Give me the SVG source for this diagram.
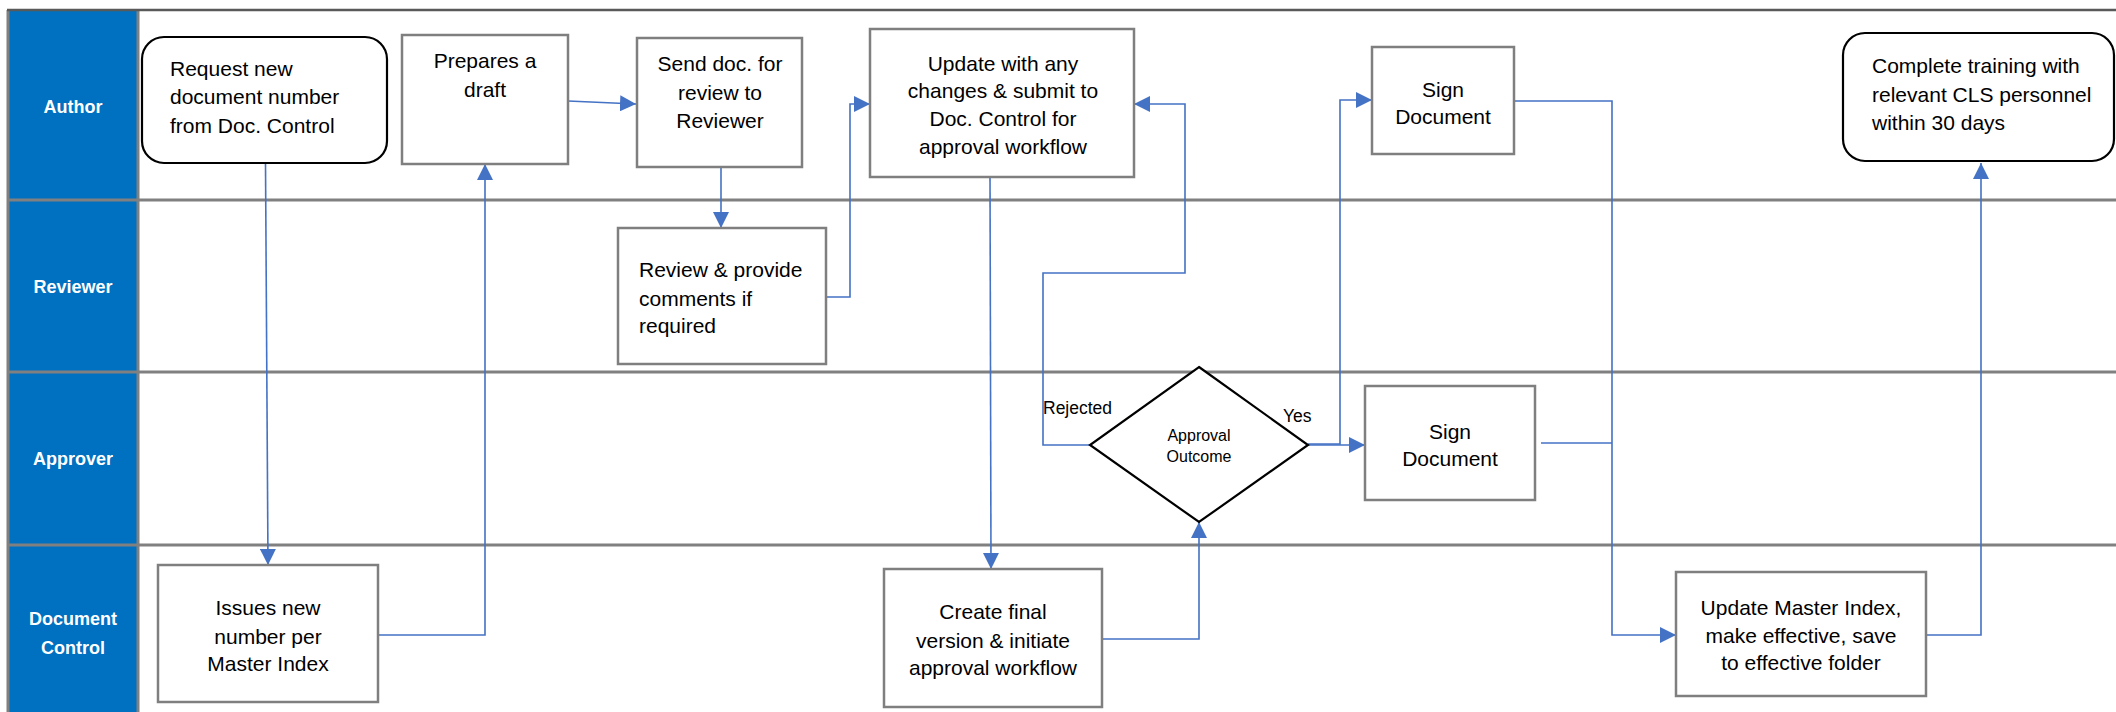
<svg xmlns="http://www.w3.org/2000/svg" width="2116" height="712" viewBox="0 0 2116 712">
<style>
  .bg{fill:#ffffff}
  .band{fill:#0070C0}
  .lane{stroke:#808080;stroke-width:3;fill:none}
  .frame{stroke:#595959;stroke-width:2.5;fill:none}
  .box{fill:#ffffff;stroke:#7F7F7F;stroke-width:2.5}
  .rbox{fill:#ffffff;stroke:#000000;stroke-width:2.2}
  .dia{fill:#ffffff;stroke:#000000;stroke-width:2.2}
  .lbl{font-family:"Liberation Sans",Arial,sans-serif;font-size:18px;font-weight:bold;fill:#ffffff;text-anchor:middle}
  .t{font-family:"Liberation Sans",Arial,sans-serif;font-size:21px;fill:#000000}
  .c{text-anchor:middle}
  .s{font-family:"Liberation Sans",Arial,sans-serif;font-size:16px;fill:#000000;text-anchor:middle}
  .e{font-family:"Liberation Sans",Arial,sans-serif;font-size:17.5px;fill:#000000}
  .conn{fill:none;stroke:#4472C4;stroke-width:1.6}
</style>
<defs>
  <marker id="ah" markerUnits="userSpaceOnUse" markerWidth="18" markerHeight="16" refX="16" refY="8" orient="auto">
    <path d="M0,0 L16,8 L0,16 Z" fill="#4472C4"/>
  </marker>
</defs>
<rect class="bg" x="0" y="0" width="2116" height="712"/>

<g id="lanes">
  <rect class="band" x="8" y="10" width="129" height="702"/>
  <line class="lane" x1="8" y1="10" x2="8" y2="712"/>
  <line class="lane" x1="138" y1="10" x2="138" y2="712"/>
  <line class="frame" x1="7" y1="10" x2="2116" y2="10"/>
  <line class="lane" x1="8" y1="200" x2="2116" y2="200"/>
  <line class="lane" x1="8" y1="372" x2="2116" y2="372"/>
  <line class="lane" x1="8" y1="545" x2="2116" y2="545"/>
  <text class="lbl" x="73" y="113">Author</text>
  <text class="lbl" x="73" y="293">Reviewer</text>
  <text class="lbl" x="73" y="465">Approver</text>
  <text class="lbl" x="73" y="625">Document</text>
  <text class="lbl" x="73" y="654">Control</text>
</g>

<g id="connectors">
  <line class="conn" x1="265.5" y1="163" x2="268" y2="565" marker-end="url(#ah)"/>
  <polyline class="conn" points="378,635 485,635 485,164" marker-end="url(#ah)"/>
  <line class="conn" x1="568" y1="101" x2="636" y2="104" marker-end="url(#ah)"/>
  <line class="conn" x1="721" y1="167" x2="721" y2="228" marker-end="url(#ah)"/>
  <polyline class="conn" points="826,297 850,297 850,104 870,104" marker-end="url(#ah)"/>
  <line class="conn" x1="990" y1="174" x2="991" y2="569" marker-end="url(#ah)"/>
  <polyline class="conn" points="1102,639 1199,639 1199,522" marker-end="url(#ah)"/>
  <polyline class="conn" points="1090,445 1043,445 1043,273 1185,273 1185,104 1134,104" marker-end="url(#ah)"/>
  <line class="conn" x1="1308" y1="445" x2="1365" y2="445" marker-end="url(#ah)" stroke-width="2.5"/>
  <polyline class="conn" points="1308,444 1340,444 1340,100 1372,100" marker-end="url(#ah)"/>
  <polyline class="conn" points="1515,101 1612,101 1612,635 1676,635" marker-end="url(#ah)"/>
  <line class="conn" x1="1541" y1="443" x2="1612" y2="443"/>
  <polyline class="conn" points="1926,635 1981,635 1981,163" marker-end="url(#ah)"/>
</g>

<g id="n-request">
  <rect class="rbox" x="142" y="37" width="245" height="126" rx="22" ry="22"/>
  <text class="t" x="170" y="76">Request new</text>
  <text class="t" x="170" y="104">document number</text>
  <text class="t" x="170" y="133">from Doc. Control</text>
</g>
<g id="n-draft">
  <rect class="box" x="402" y="35" width="166" height="129"/>
  <text class="t c" x="485" y="68">Prepares a</text>
  <text class="t c" x="485" y="97">draft</text>
</g>
<g id="n-send">
  <rect class="box" x="637" y="38" width="165" height="129"/>
  <text class="t c" x="720" y="71">Send doc. for</text>
  <text class="t c" x="720" y="100">review to</text>
  <text class="t c" x="720" y="128">Reviewer</text>
</g>
<g id="n-update">
  <rect class="box" x="870" y="29" width="264" height="148"/>
  <text class="t c" x="1003" y="71">Update with any</text>
  <text class="t c" x="1003" y="98">changes &amp; submit to</text>
  <text class="t c" x="1003" y="126">Doc. Control for</text>
  <text class="t c" x="1003" y="154">approval workflow</text>
</g>
<g id="n-sign-author">
  <rect class="box" x="1372" y="47" width="142" height="107"/>
  <text class="t c" x="1443" y="97">Sign</text>
  <text class="t c" x="1443" y="124">Document</text>
</g>
<g id="n-complete">
  <rect class="rbox" x="1843" y="33" width="271" height="128" rx="22" ry="22"/>
  <text class="t" x="1872" y="73">Complete training with</text>
  <text class="t" x="1872" y="102">relevant CLS personnel</text>
  <text class="t" x="1872" y="130">within 30 days</text>
</g>
<g id="n-review">
  <rect class="box" x="618" y="228" width="208" height="136"/>
  <text class="t" x="639" y="277">Review &amp; provide</text>
  <text class="t" x="639" y="306">comments if</text>
  <text class="t" x="639" y="333">required</text>
</g>
<g id="n-decision">
  <polygon class="dia" points="1199,367 1308,445 1199,522 1090,445"/>
  <text class="s" x="1199" y="441">Approval</text>
  <text class="s" x="1199" y="462">Outcome</text>
  <text class="e" x="1043" y="414">Rejected</text>
  <text class="e" x="1283" y="422">Yes</text>
</g>
<g id="n-sign-approver">
  <rect class="box" x="1365" y="386" width="170" height="114"/>
  <text class="t c" x="1450" y="439">Sign</text>
  <text class="t c" x="1450" y="466">Document</text>
</g>
<g id="n-issues">
  <rect class="box" x="158" y="565" width="220" height="137"/>
  <text class="t c" x="268" y="615">Issues new</text>
  <text class="t c" x="268" y="644">number per</text>
  <text class="t c" x="268" y="671">Master Index</text>
</g>
<g id="n-create">
  <rect class="box" x="884" y="569" width="218" height="138"/>
  <text class="t c" x="993" y="619">Create final</text>
  <text class="t c" x="993" y="648">version &amp; initiate</text>
  <text class="t c" x="993" y="675">approval workflow</text>
</g>
<g id="n-master">
  <rect class="box" x="1676" y="572" width="250" height="124"/>
  <text class="t c" x="1801" y="615">Update Master Index,</text>
  <text class="t c" x="1801" y="643">make effective, save</text>
  <text class="t c" x="1801" y="670">to effective folder</text>
</g>
</svg>
